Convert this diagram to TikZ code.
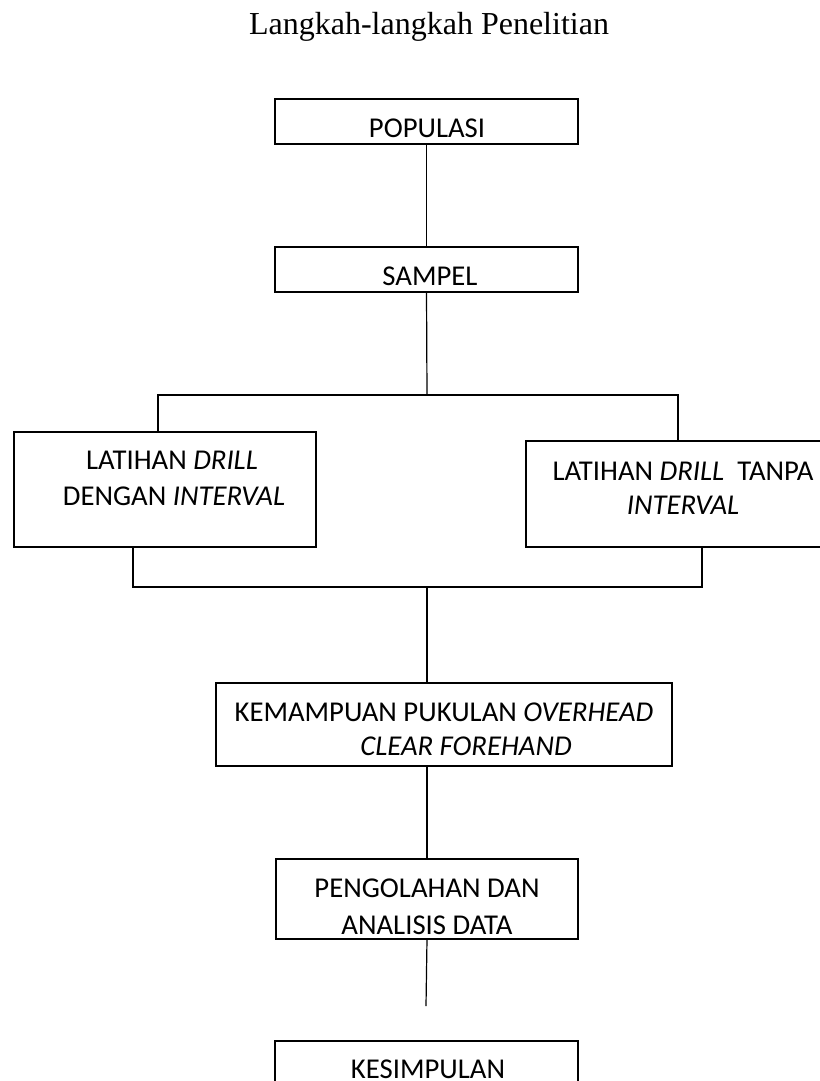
\documentclass[tikz,border=0pt]{standalone}
\usepackage{fontspec}
\setmainfont{Carlito}
\newfontfamily\judulfont{Liberation Serif}
\usetikzlibrary{calc}
\newcommand{\isi}{\fontsize{28.7}{35}\selectfont}
\tikzset{
  kotak/.style={draw, line width=1.2pt, inner sep=0pt, outer sep=0pt, anchor=north west},
  teks/.style={font=\isi, inner sep=0pt, anchor=base},
  garis/.style={line width=1.2pt}
}

\begin{document}
\begin{tikzpicture}[x=1pt, y=-1pt]
\useasboundingbox (0,0) rectangle (819,1081);

\node[font=\judulfont\fontsize{32}{38}\selectfont, inner sep=0pt, anchor=base] (judul) at (429,35) {Langkah-langkah Penelitian};

% kotak-kotak
\node[kotak, minimum width=303, minimum height=45] (pop) at (275,99) {};
\node[kotak, minimum width=303, minimum height=45] (sam) at (275,247) {};
\node[kotak, minimum width=302, minimum height=115] (lat1) at (14,432) {};
\node[kotak, minimum width=314, minimum height=106] (lat2) at (526,441) {};
\node[kotak, minimum width=456, minimum height=83] (kem) at (216,683) {};
\node[kotak, minimum width=302, minimum height=80] (peng) at (276,859) {};
\node[kotak, minimum width=303, minimum height=60] (kes) at (275,1041) {};

% isi kotak
\node[teks] (pop-t) at (427,137) {POPULASI};
\node[teks] (sam-t) at (430,285) {SAMPEL};
\node[teks] (lat1-a) at (172,469) {LATIHAN \textit{DRILL}};
\node[teks] (lat1-b) at (174,505) {DENGAN \textit{INTERVAL}};
\node[teks] (lat2-a) at (683,480) {LATIHAN \textit{DRILL}\ \ TANPA};
\node[teks] (lat2-b) at (683,514) {\textit{INTERVAL}};
\node[teks] (kem-a) at (444,721) {KEMAMPUAN PUKULAN \textit{OVERHEAD}};
\node[teks] (kem-b) at (466,755) {\textit{CLEAR FOREHAND}};
\node[teks] (peng-a) at (427,897) {PENGOLAHAN DAN};
\node[teks] (peng-b) at (427,934) {ANALISIS DATA};
\node[teks] (kes-t) at (428,1078) {KESIMPULAN};

% titik cabang
\coordinate (cabang) at (427,395);
\coordinate (cabang-kiri) at (158,395);
\coordinate (cabang-kanan) at (678,395);
\coordinate (gabung) at (427,587);
\coordinate (gabung-kiri) at (133,587);
\coordinate (gabung-kanan) at (702,587);
\coordinate (ujung) at (426,1006);

\draw[garis] (pop.south) -- (sam.north);
\draw[garis] (sam.south) -- (cabang);
\draw[garis] (cabang-kiri |- lat1.north) -- (cabang-kiri) -- (cabang-kanan) -- (cabang-kanan |- lat2.north);
\draw[garis] (gabung-kiri |- lat1.south) -- (gabung-kiri) -- (gabung-kanan) -- (gabung-kanan |- lat2.south);
\draw[garis] (gabung) -- (gabung |- kem.north);
\draw[garis] (peng.north |- kem.south) -- (peng.north);
\draw[garis] (peng.south) -- (ujung);

\end{tikzpicture}
\end{document}
